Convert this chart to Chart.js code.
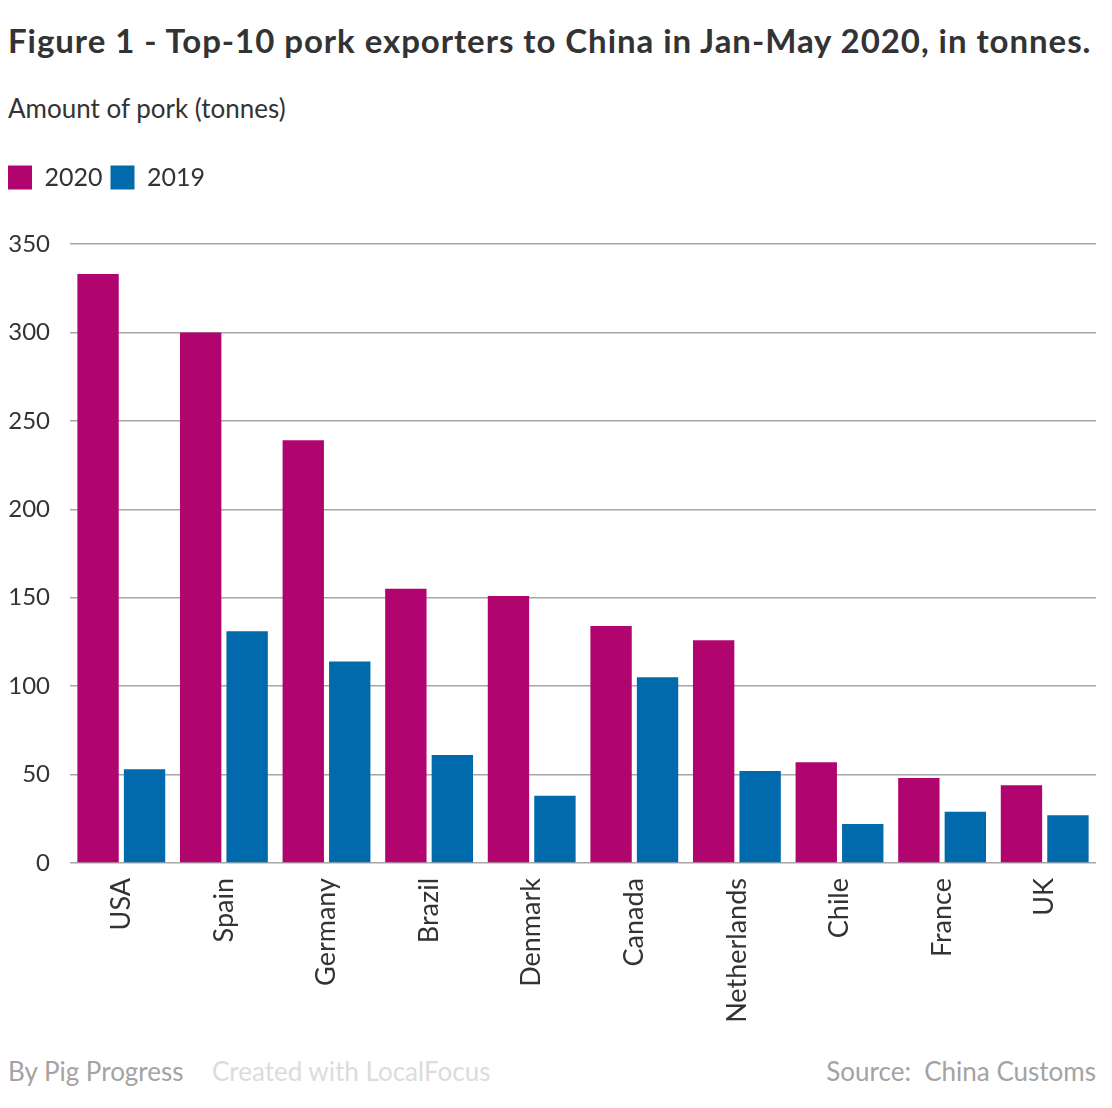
<!DOCTYPE html>
<html>
<head>
<meta charset="utf-8">
<script src="https://cdn.jsdelivr.net/npm/chart.js@4/dist/chart.umd.min.js"></script>
<style>
  html, body { margin: 0; padding: 0; background: #fff; width: 1112px; height: 1108px; overflow: hidden; }
  body { position: relative; font-family: "Source Sans Pro", Lato, "Open Sans", sans-serif; color: #333; }
  #title { position: absolute; left: 8px; top: 20px; font-size: 33px; font-weight: 700; white-space: nowrap; letter-spacing: 0.95px; }
  #subtitle { position: absolute; left: 8px; top: 92px; font-size: 26px; white-space: nowrap; }
  #wrap { position: absolute; left: 0; top: 150px; width: 1112px; height: 880px; }
  .foot { position: absolute; top: 1055px; font-size: 26px; white-space: nowrap; }
</style>
</head>
<body>
<div id="title">Figure 1 - Top-10 pork exporters to China in Jan-May 2020, in tonnes.</div>
<div id="subtitle">Amount of pork (tonnes)</div>
<div id="wrap"><canvas id="c"></canvas></div>
<div class="foot" style="left:8px;color:#a3a3a3;">By Pig Progress</div>
<div class="foot" style="left:212px;color:#dcdcdc;">Created with LocalFocus</div>
<div class="foot" style="right:16px;color:#a3a3a3;">Source:&nbsp; China Customs</div>
<script>
const categories = ["USA", "Spain", "Germany", "Brazil", "Denmark", "Canada", "Netherlands", "Chile", "France", "UK"];
const values2020 = [333, 300, 239, 155, 151, 134, 126, 57, 48, 44];
const values2019 = [53, 131, 114, 61, 38, 105, 52, 22, 29, 27];
const yTicks = [0, 50, 100, 150, 200, 250, 300, 350];
const seriesNames = ["2020", "2019"];

const FONT = '"Source Sans Pro", Lato, "Open Sans", sans-serif';

const legendPad = {
  id: 'legendPad',
  beforeInit(chart) {
    const legend = chart.legend;
    if (!legend) return;
    const fit = legend.fit;
    legend.fit = function () {
      fit.call(this);
      this.height += 44;
    };
  }
};

new Chart(document.getElementById('c'), {
  type: 'bar',
  data: {
    labels: categories,
    datasets: [
      { label: seriesNames[0], data: values2020, backgroundColor: '#b0056f', borderWidth: 0,
        categoryPercentage: 0.906, barPercentage: 0.89 },
      { label: seriesNames[1], data: values2019, backgroundColor: '#006aad', borderWidth: 0,
        categoryPercentage: 0.906, barPercentage: 0.89 }
    ]
  },
  options: {
    responsive: true,
    maintainAspectRatio: false,
    animation: false,
    layout: { padding: { left: 0, right: 16, top: 7, bottom: 0 } },
    plugins: {
      legend: {
        display: true,
        position: 'top',
        align: 'start',
        labels: {
          boxWidth: 24, boxHeight: 24, padding: 8,
          color: '#333',
          font: { family: FONT, size: 25 }
        }
      },
      tooltip: { enabled: false }
    },
    scales: {
      x: {
        grid: { display: false, drawTicks: false },
        border: { display: false },
        ticks: {
          color: '#333',
          font: { family: FONT, size: 27 },
          minRotation: 90, maxRotation: 90,
          padding: 15,
          autoSkip: false
        },
        afterFit(scale) { scale.height = 167; }
      },
      y: {
        min: 0, max: 350,
        afterBuildTicks(scale) { scale.ticks = yTicks.map(v => ({ value: v })); },
        grid: { color: '#a6a6a6', lineWidth: 1.5, drawTicks: false },
        border: { display: false },
        ticks: {
          color: '#333',
          font: { family: FONT, size: 24 },
          padding: 20
        },
        afterFit(scale) { scale.width = 70; }
      }
    }
  },
  plugins: [legendPad]
});
</script>
</body>
</html>
